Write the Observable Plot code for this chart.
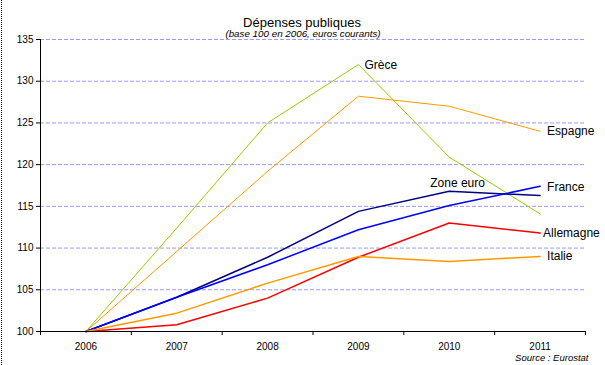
<!DOCTYPE html>
<html><head><meta charset="utf-8">
<script src="https://cdn.jsdelivr.net/npm/d3@7"></script>
<script src="https://cdn.jsdelivr.net/npm/@observablehq/plot@0.6"></script>
<style>
body{margin:0;background:#fff;}
#wrap{position:relative;width:605px;height:365px;}
#border{position:absolute;left:1px;top:0;height:365px;border-left:1px dotted #000;}
</style></head><body><div id="wrap"><div id="border"></div></div>
<script>
const years = [2006, 2007, 2008, 2009, 2010, 2011];
const grece = [100, 112.4, 125.0, 132.0, 120.9, 114.1];
const espagne = [100, 109.6, 119.2, 128.2, 127.0, 124.0];
const zoneEuro = [100, 104.1, 108.9, 114.4, 116.8, 116.3];
const france = [100, 104.1, 108.0, 112.2, 115.1, 117.4];
const allemagne = [100, 100.8, 104.0, 108.9, 113.0, 111.8];
const italie = [100, 102.2, 105.8, 109.0, 108.4, 109.0];
const yTicks = [100, 105, 110, 115, 120, 125, 130, 135];
const gridValues = [105, 110, 115, 120, 125, 130, 135];
const title = "Dépenses publiques";
const subtitle = "(base 100 en 2006, euros courants)";
const source = "Source : Eurostat";

const series = [
  {name: "Grèce", values: grece, color: "#99cc00", width: 1, labelIdx: 3, dx: 6, dy: 1, anchor: "start"},
  {name: "Espagne", values: espagne, color: "#ff9900", width: 1, labelIdx: 5, dx: 7, dy: 0, anchor: "start"},
  {name: "Zone euro", values: zoneEuro, color: "#000080", width: 1.5, labelIdx: 4, dx: -19, dy: -8, anchor: "start"},
  {name: "France", values: france, color: "#0000ff", width: 1.5, labelIdx: 5, dx: 7, dy: 0.5, anchor: "start"},
  {name: "Allemagne", values: allemagne, color: "#ff0000", width: 1.5, labelIdx: 5, dx: 3, dy: 0.5, anchor: "start"},
  {name: "Italie", values: italie, color: "#ff9900", width: 1.5, labelIdx: 5, dx: 7, dy: 0, anchor: "start"}
];

const boundaries = years.map(y => y - 0.5).concat([years[years.length - 1] + 0.5]);

const marks = [
  Plot.ruleY(gridValues, {stroke: "#9999ff", strokeWidth: 1, strokeDasharray: "4,2"}),
  Plot.axisY({ticks: yTicks, tickSize: 4, tickPadding: 3, fontSize: 10, label: null, tickFormat: d => d}),
  Plot.axisX({ticks: boundaries, tickSize: 4, tickFormat: () => "", label: null}),
  Plot.axisX({ticks: years, tickSize: 0, tickPadding: 11, fontSize: 10, label: null, tickFormat: d => String(d)}),
];

for (const s of series) {
  const d = years.map((y, i) => ({year: y, value: s.values[i]}));
  marks.push(Plot.line(d, {x: "year", y: "value", stroke: s.color, strokeWidth: s.width}));
}
for (const s of series) {
  marks.push(Plot.text([{year: years[s.labelIdx], value: s.values[s.labelIdx], name: s.name}], {
    x: "year", y: "value", text: "name", dx: s.dx, dy: s.dy, textAnchor: s.anchor, fontSize: 12, fill: "#000"
  }));
}
marks.push(Plot.ruleX([years[0] - 0.5], {stroke: "#000"}));
marks.push(Plot.ruleY([yTicks[0]], {stroke: "#000"}));
marks.push(Plot.text([title], {text: d => d, frameAnchor: "top", dx: -11, dy: -22, fontSize: 13, fill: "#000"}));
marks.push(Plot.text([subtitle], {text: d => d, frameAnchor: "top", dx: -10, dy: -9, fontSize: 9.8, fontStyle: "italic", fill: "#000"}));
marks.push(Plot.text([source], {text: d => d, frameAnchor: "bottom-right", textAnchor: "end", dx: 3, dy: 29, fontSize: 9.5, fontStyle: "italic", fill: "#000"}));

const chart = Plot.plot({
  width: 605,
  height: 365,
  marginTop: 39,
  marginBottom: 34,
  marginLeft: 40,
  marginRight: 20,
  style: {fontFamily: "'Liberation Sans', Arial, sans-serif", color: "#000", background: "#fff"},
  x: {type: "linear", domain: [years[0] - 0.5, years[years.length - 1] + 0.5]},
  y: {domain: [yTicks[0], yTicks[yTicks.length - 1]]},
  marks
});
document.getElementById("wrap").appendChild(chart);
</script></body></html>
